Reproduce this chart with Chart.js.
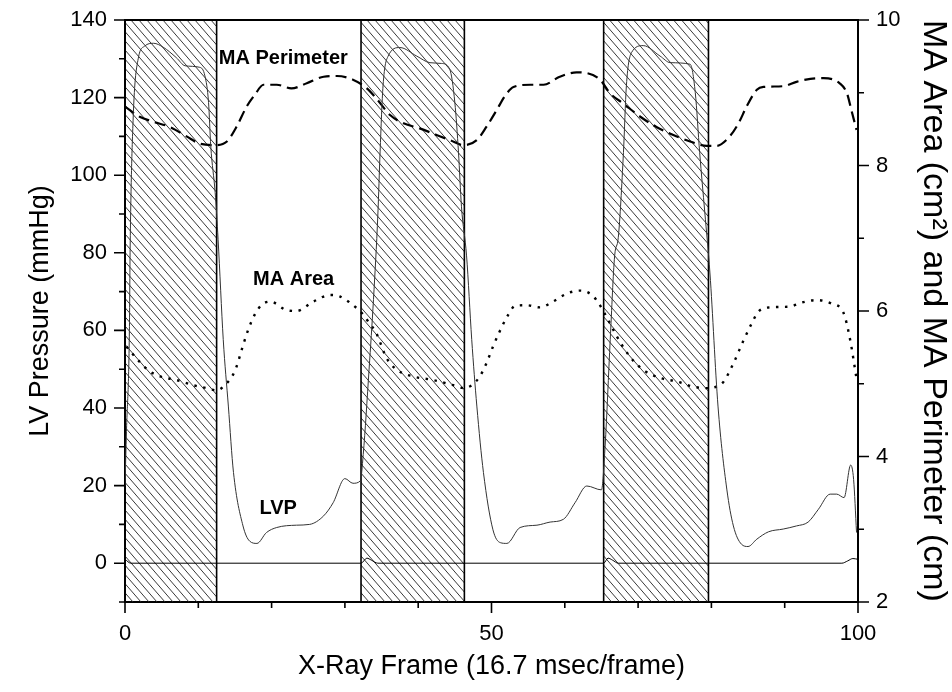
<!DOCTYPE html>
<html>
<head>
<meta charset="utf-8">
<script src="https://cdn.jsdelivr.net/npm/chart.js@4.4.1/dist/chart.umd.min.js"></script>
<style>
  html, body { margin: 0; padding: 0; background: #fff; }
  #wrap { width: 952px; height: 692px; }
</style>
</head>
<body>
<div id="wrap"><canvas id="c" width="952" height="692"></canvas></div>
<script>
// LV pressure (mmHg)
const lvpFrame = [0, 0.2, 0.6, 0.7, 1.1, 1.8, 2.7, 3.9, 5.2, 7.0, 8.2, 10.2, 10.9, 11.4, 11.7, 12.3, 12.7,
  13.4, 14.1, 14.8, 16.1, 17.0, 18.0, 19.3, 20.7, 23.4, 25.2, 27.1, 28.4, 30.0, 31.1, 32.1,
  32.5, 33.3, 33.9, 34.5, 34.8, 35.2, 35.9, 37.5, 39.8, 41.6, 43.2, 44.3, 45.0, 45.5, 45.9,
  46.6, 47.3, 48.0, 48.9, 50.2, 51.2, 52.1, 53.9, 56.2, 58.0, 59.8, 61.4, 63.0, 65.0,
  65.5, 66.2, 66.8, 67.3, 68.0, 68.4, 69.1, 70.7, 73.0, 74.4, 77.1, 77.8, 78.4, 79.1,
  79.8, 80.9, 82.1, 83.0, 84.1, 85.0, 86.2, 87.8, 89.8, 91.6, 93.2, 94.6, 96.2, 97.1, 98.1,
  99.0, 99.4, 99.8];
const lvpPressure = [20, 34, 60, 81, 114, 130, 133.3, 134, 133, 130.3, 128.2, 127.8, 125.6, 118.7, 107.5, 95.5, 83.5,
  57.7, 40.5, 23.4, 9.6, 5.7, 5.1, 7.9, 9.2, 9.8, 10, 12.2, 15.6, 21.8, 20.6, 21.2,
  28, 50, 68, 90, 106, 123, 130.7, 132.9, 130.7, 129, 128.8, 127.3, 118.7, 105.8, 92,
  79.2, 57.7, 40.5, 23.4, 8.6, 5.3, 5.1, 9.2, 9.8, 10.6, 11.3, 15.6, 19.9, 18.9,
  30.2, 57.7, 79.2, 84, 105.8, 123, 131.6, 133.4, 130.7, 129, 128.6, 121.3, 105.8, 90.4,
  74.8, 40.5, 19.1, 9.6, 4.9, 4.3, 6.2, 8.1, 8.8, 9.6, 10.6, 13.9, 17.8, 17.8, 16.9,
  25.3, 21.6, 7.9];

// thin trace near zero
const baseFrame = [0, 0.8, 32.2, 33.0, 33.6, 34.5, 65.3, 65.9, 66.5, 67.3, 97.8, 98.6, 99.3, 100];
const baseMmHg = [1.0, 0, 0, 1.3, 0.8, 0, 0, 1.3, 0.8, 0, 0, 0.6, 1.2, 1.0];

// MA perimeter (cm)
const perimFrame = [0, 2.0, 3.9, 6.1, 8.4, 10.2, 12.3, 13.9, 15.2, 16.6, 17.7, 18.9, 20.7, 22.7, 24.8,
  27.1, 28.9, 31.1, 33.0, 34.3, 36.2, 38.0, 40.2, 42.5, 44.3, 46.2, 48.0, 49.3, 50.7, 51.8,
  53.0, 55.3, 57.1, 59.3, 61.6, 63.0, 64.8, 66.2, 68.0, 70.3, 72.5, 74.8, 77.1, 79.4, 80.7,
  82.5, 83.7, 84.8, 86.2, 87.1, 89.8, 91.6, 93.5, 95.3, 97.5, 98.5, 99.1, 99.8];
const perimCm = [8.81, 8.67, 8.60, 8.53, 8.40, 8.30, 8.28, 8.33, 8.53, 8.81, 8.97, 9.11, 9.11, 9.06, 9.13,
  9.22, 9.23, 9.18, 9.06, 8.92, 8.69, 8.58, 8.51, 8.42, 8.35, 8.28, 8.35, 8.53, 8.76, 8.95,
  9.08, 9.11, 9.11, 9.22, 9.28, 9.27, 9.18, 8.99, 8.85, 8.67, 8.53, 8.42, 8.33, 8.27, 8.27,
  8.40, 8.58, 8.81, 9.04, 9.08, 9.09, 9.15, 9.19, 9.20, 9.13, 8.99, 8.76, 8.49];

// MA area (cm2)
const areaFrame = [0.2, 2.0, 3.4, 4.8, 7.05, 9.3, 11.1, 12.5, 13.9, 14.6, 15.2, 15.9, 16.8, 17.7, 18.6,
  19.8, 22.1, 23.4, 25.7, 28.0, 29.3, 31.6, 32.5, 33.0, 34.3, 35.7, 37.1, 39.3, 42.1, 44.8,
  46.2, 47.3, 48.4, 49.3, 50.2, 51.4, 52.3, 53.2, 54.8, 56.6, 58.4, 60.3, 62.1, 63.7, 64.6,
  65.9, 67.1, 68.9, 70.7, 73.0, 75.3, 77.5, 79.4, 80.7, 81.6, 83.0, 84.4, 85.5, 86.4, 88.0,
  90.7, 92.1, 94.4, 96.4, 98.0, 98.9, 99.8];
const areaCm2 = [5.51, 5.30, 5.17, 5.10, 5.05, 4.98, 4.94, 4.91, 5.01, 5.10, 5.23, 5.46, 5.74, 5.95, 6.08,
  6.13, 6.01, 6.00, 6.13, 6.22, 6.20, 6.04, 5.95, 5.88, 5.69, 5.35, 5.19, 5.10, 5.05, 4.98,
  4.94, 4.98, 5.10, 5.28, 5.51, 5.78, 5.95, 6.07, 6.08, 6.05, 6.13, 6.24, 6.28, 6.22, 6.11,
  5.88, 5.65, 5.37, 5.19, 5.08, 5.03, 4.96, 4.94, 4.96, 5.02, 5.28, 5.60, 5.83, 5.99, 6.05,
  6.06, 6.11, 6.15, 6.10, 5.98, 5.62, 5.07];

// hatched (systolic) frame spans
const hatchStart = [0, 32.2, 65.3];
const hatchEnd = [12.5, 46.3, 79.6];

const FONT = 'Liberation Sans, Arial, Helvetica, sans-serif';

const pts = (xs, ys) => xs.map((x, i) => ({ x, y: ys[i] }));

// fixed axis box sizes, no extra label overflow padding
const fitWidth = w => s => { s.width = w; s.paddingTop = 0; s.paddingBottom = 0; };

// hatched boxes behind the curves
const hatchPlugin = {
  id: 'hatch',
  beforeDatasetsDraw(chart) {
    const { ctx, chartArea: a, scales: { x } } = chart;
    const h = a.bottom - a.top;
    const run = h / 1.15;
    hatchStart.forEach((s, i) => {
      const x1 = x.getPixelForValue(s);
      const x2 = x.getPixelForValue(hatchEnd[i]);
      ctx.save();
      ctx.beginPath();
      ctx.rect(x1, a.top, x2 - x1, h);
      ctx.clip();
      ctx.strokeStyle = '#222';
      ctx.lineWidth = 0.9;
      ctx.beginPath();
      for (let u = x1 - run; u < x2; u += 8) {
        ctx.moveTo(u, a.top);
        ctx.lineTo(u + run, a.bottom);
      }
      ctx.stroke();
      ctx.restore();
      ctx.save();
      ctx.strokeStyle = '#000';
      ctx.lineWidth = 1.6;
      ctx.beginPath();
      ctx.moveTo(x1, a.top); ctx.lineTo(x1, a.bottom);
      ctx.moveTo(x2, a.top); ctx.lineTo(x2, a.bottom);
      ctx.stroke();
      ctx.restore();
    });
  }
};

// outward tick marks (major/minor), top frame line and curve labels
const axisPlugin = {
  id: 'axisTicks',
  afterDatasetsDraw(chart) {
    const { ctx, chartArea: a, scales } = chart;
    ctx.save();
    ctx.strokeStyle = '#000';
    ctx.lineWidth = 1.6;
    ctx.beginPath();
    scales.x.ticks.forEach(t => {
      const p = scales.x.getPixelForValue(t.value);
      const len = t.label !== '' ? 11 : 6;
      ctx.moveTo(p, a.bottom); ctx.lineTo(p, a.bottom + len);
    });
    scales.y.ticks.forEach(t => {
      const p = scales.y.getPixelForValue(t.value);
      const len = t.label !== '' ? 11 : 6;
      ctx.moveTo(a.left, p); ctx.lineTo(a.left - len, p);
    });
    scales.y1.ticks.forEach(t => {
      const p = scales.y1.getPixelForValue(t.value);
      const len = t.label !== '' ? 11 : 6;
      ctx.moveTo(a.right, p); ctx.lineTo(a.right + len, p);
    });
    ctx.stroke();
    ctx.lineWidth = 2;
    ctx.beginPath();
    ctx.moveTo(a.left, a.top); ctx.lineTo(a.right, a.top);
    ctx.stroke();

    const notes = [
      { text: 'MA Perimeter', x: 21.6, y: 130 },
      { text: 'MA Area', x: 23.0, y: 73.2 },
      { text: 'LVP', x: 20.9, y: 14 }
    ];
    ctx.fillStyle = '#000';
    ctx.font = 'bold 20px ' + FONT;
    ctx.textAlign = 'center';
    ctx.textBaseline = 'middle';
    notes.forEach(n => {
      ctx.fillText(n.text, scales.x.getPixelForValue(n.x), scales.y.getPixelForValue(n.y));
    });
    ctx.restore();
  }
};

new Chart(document.getElementById('c'), {
  type: 'line',
  data: {
    datasets: [
      {
        label: 'LVP',
        data: pts(lvpFrame, lvpPressure),
        yAxisID: 'y',
        borderColor: '#333',
        borderWidth: 1,
        pointRadius: 0,
        cubicInterpolationMode: 'monotone'
      },
      {
        label: 'Baseline',
        data: pts(baseFrame, baseMmHg),
        yAxisID: 'y',
        borderColor: '#000',
        borderWidth: 1,
        pointRadius: 0,
        cubicInterpolationMode: 'monotone'
      },
      {
        label: 'MA Perimeter',
        data: pts(perimFrame, perimCm),
        yAxisID: 'y1',
        borderColor: '#000',
        borderWidth: 2.2,
        borderDash: [11, 6],
        pointRadius: 0,
        cubicInterpolationMode: 'monotone'
      },
      {
        label: 'MA Area',
        data: pts(areaFrame, areaCm2),
        yAxisID: 'y1',
        borderColor: '#000',
        borderWidth: 2.4,
        borderDash: [2.5, 6.5],
        pointRadius: 0,
        cubicInterpolationMode: 'monotone'
      }
    ]
  },
  options: {
    responsive: false,
    animation: false,
    layout: { padding: { top: 20, left: 0, right: 0, bottom: 0 } },
    plugins: { legend: { display: false }, tooltip: { enabled: false } },
    scales: {
      x: {
        type: 'linear',
        min: 0,
        max: 100,
        afterFit: s => { s.height = 90; },
        grid: { display: true, drawOnChartArea: false, drawTicks: false },
        border: { display: true, color: '#000', width: 2 },
        ticks: {
          stepSize: 10,
          autoSkip: false,
          maxRotation: 0,
          padding: 19,
          color: '#000',
          font: { family: FONT, size: 22 },
          callback: v => (v % 50 === 0 ? String(v) : '')
        },
        title: {
          display: true,
          text: 'X-Ray Frame (16.7 msec/frame)',
          color: '#000',
          font: { family: FONT, size: 27 },
          padding: { top: 0, bottom: 9 }
        }
      },
      y: {
        position: 'left',
        min: -10,
        max: 140,
        afterFit: fitWidth(125),
        grid: { display: true, drawOnChartArea: false, drawTicks: false },
        border: { display: true, color: '#000', width: 2 },
        ticks: {
          stepSize: 10,
          autoSkip: false,
          padding: 18,
          color: '#000',
          font: { family: FONT, size: 22 },
          callback: v => (v % 20 === 0 ? String(v) : '')
        },
        title: {
          display: true,
          text: 'LV Pressure (mmHg)',
          color: '#000',
          font: { family: FONT, size: 27 },
          padding: { top: 24, bottom: 0 }
        }
      },
      y1: {
        position: 'right',
        min: 2,
        max: 10,
        afterFit: fitWidth(94),
        grid: { display: true, drawOnChartArea: false, drawTicks: false },
        border: { display: true, color: '#000', width: 2 },
        ticks: {
          stepSize: 1,
          autoSkip: false,
          padding: 18,
          color: '#000',
          font: { family: FONT, size: 22 },
          callback: v => (v % 2 === 0 ? String(v) : '')
        },
        title: {
          display: true,
          text: 'MA Area (cm²) and MA Perimeter (cm)',
          color: '#000',
          font: { family: FONT, size: 34, lineHeight: 1 },
          padding: { top: 2, bottom: 0 }
        }
      }
    }
  },
  plugins: [hatchPlugin, axisPlugin]
});
</script>
</body>
</html>
